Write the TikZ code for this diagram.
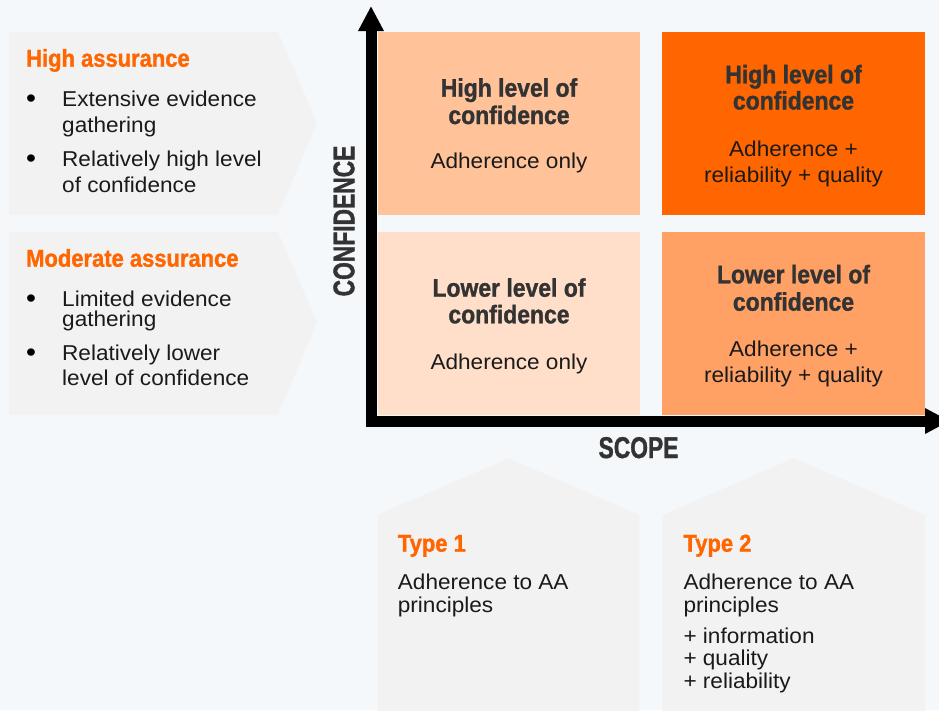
\documentclass[tikz,border=0pt]{standalone}
\usepackage{fontspec}
\setmainfont{Liberation Sans}
\newfontfamily\bodyf{Liberation Sans}[FakeStretch=1.05]
\newfontfamily\condf{Liberation Sans}[FakeStretch=0.9,FakeBold=1.2]
\newfontfamily\capsf{Liberation Sans}[FakeStretch=0.76,FakeBold=1.2]
\usetikzlibrary{arrows.meta}
\definecolor{bgc}{HTML}{F4F8FB}
\definecolor{panelc}{HTML}{F2F2F2}
\definecolor{orng}{HTML}{FF6600}
\definecolor{qtl}{HTML}{FFC299}
\definecolor{qbl}{HTML}{FFDFC9}
\definecolor{qtr}{HTML}{FF6600}
\definecolor{qbr}{HTML}{FFA064}
\definecolor{darkc}{HTML}{333333}
\definecolor{bodyc}{HTML}{1A1A1A}
\tikzset{
  head/.style={inner sep=0pt, font=\condf\bfseries\fontsize{24.4}{28}\selectfont, text=orng, anchor=base west},
  body/.style={inner sep=0pt, font=\bodyf\fontsize{21.5}{26}\selectfont, text=bodyc, anchor=base west},
  bul/.style={inner sep=0pt, font=\bodyf\fontsize{27}{30}\selectfont, text=black, anchor=base},
  qtitle/.style={inner sep=0pt, font=\condf\bfseries\fontsize{25.5}{28}\selectfont, text=darkc, anchor=base},
  qbody/.style={inner sep=0pt, font=\bodyf\fontsize{21.5}{26}\selectfont, text=bodyc, anchor=base},
  axlab/.style={inner sep=0pt, font=\capsf\bfseries\fontsize{30}{32}\selectfont, text=darkc},
  axisline/.style={line width=11pt, line join=miter, draw=black,
    {Triangle[length=25pt,width=24pt]}-{Triangle[length=25pt,width=24pt]}},
}
\begin{document}
\begin{tikzpicture}[x=1pt,y=-1pt]
\useasboundingbox (0,0) rectangle (939,710);
\clip (0,0) rectangle (939,710);
\fill[bgc] (0,0) rectangle (939,710);

% left chevron panels
\fill[panelc] (9,32) -- (278,32) -- (317,123) -- (278,215) -- (9,215) -- cycle;
\fill[panelc] (9,232) -- (278,232) -- (317,322) -- (278,415) -- (9,415) -- cycle;

\node[head] (ha) at (26,66.7) {High assurance};
\node[bul] (b1) at (31,107) {•};
\node[body] (ha1) at (62,106) {Extensive evidence};
\node[body] (ha2) at (62,132) {gathering};
\node[bul] (b2) at (31,167) {•};
\node[body] (ha3) at (62,166) {Relatively high level};
\node[body] (ha4) at (62,192.7) {of confidence};

\node[head] (ma) at (26,266.7) {Moderate assurance};
\node[bul] (b3) at (31,307) {•};
\node[body] (ma1) at (62,306) {Limited evidence};
\node[body] (ma2) at (62,326) {gathering};
\node[bul] (b4) at (31,361) {•};
\node[body] (ma3) at (62,360) {Relatively lower};
\node[body] (ma4) at (62,385.7) {level of confidence};

% quadrants
\fill[qtl] (378,32.3) rectangle (640,215);
\fill[qbl] (378,232.3) rectangle (640,415);
\fill[qtr] (662,32.3) rectangle (925,215);
\fill[qbr] (662,232.3) rectangle (925,415);

\node[qtitle] (tl1) at (509,96.7) {High level of};
\node[qtitle] (tl2) at (509,124) {confidence};
\node[qbody] (tl3) at (509,168.3) {Adherence only};

\node[qtitle] (bl1) at (509,296.7) {Lower level of};
\node[qtitle] (bl2) at (509,323.3) {confidence};
\node[qbody] (bl3) at (509,369.3) {Adherence only};

\node[qtitle] (tr1) at (793.5,83.3) {High level of};
\node[qtitle] (tr2) at (793.5,109.5) {confidence};
\node[qbody] (tr3) at (793.5,156) {Adherence +};
\node[qbody] (tr4) at (793.5,182) {reliability + quality};

\node[qtitle] (br1) at (793.5,283.3) {Lower level of};
\node[qtitle] (br2) at (793.5,310.7) {confidence};
\node[qbody] (br3) at (793.5,356) {Adherence +};
\node[qbody] (br4) at (793.5,382.5) {reliability + quality};

% axes
\coordinate (ytip) at (371,6);
\coordinate (corner) at (371,421);
\coordinate (xtip) at (950,421);
\draw[axisline] (ytip) -- (corner) -- (xtip);

\node[axlab, rotate=90] (conf) at (344,221) {CONFIDENCE};
\node[axlab, anchor=base] (scope) at (638.5,458) {SCOPE};

% bottom pentagons
\fill[panelc] (377.3,515) -- (509,458.3) -- (639.3,515) -- (639.3,712) -- (377.3,712) -- cycle;
\fill[panelc] (662.7,515) -- (794,458) -- (925,515) -- (925,712) -- (662.7,712) -- cycle;

\node[head] (t1) at (397.7,551.7) {Type 1};
\node[body] (t1a) at (397.7,589.3) {Adherence to AA};
\node[body] (t1b) at (397.7,612.7) {principles};

\node[head] (t2) at (683.3,551.7) {Type 2};
\node[body] (t2a) at (683.3,589.3) {Adherence to AA};
\node[body] (t2b) at (683.3,612.7) {principles};
\node[body] (t2c) at (683.3,643.3) {+ information};
\node[body] (t2d) at (683.3,665.5) {+ quality};
\node[body] (t2e) at (683.3,688.3) {+ reliability};
\end{tikzpicture}
\end{document}
